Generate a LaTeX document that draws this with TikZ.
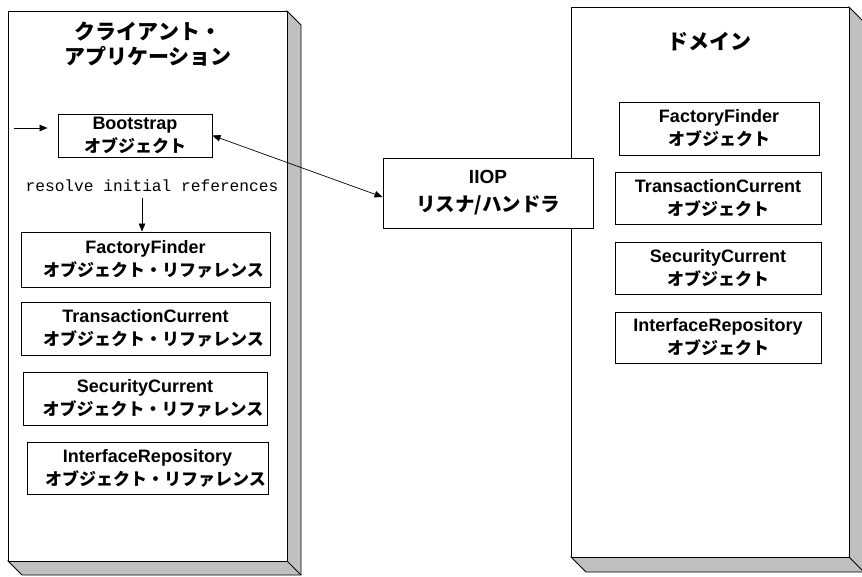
\documentclass[tikz,border=0pt]{standalone}
\usepackage{fontspec}
\setmainfont{Liberation Sans}
\newfontfamily\jp{Noto Sans CJK JP}
\newfontfamily\mono{Liberation Mono}
\usetikzlibrary{arrows.meta,calc}
\definecolor{shade}{RGB}{192,192,192}
\newcommand{\ltx}[1]{{\fontsize{18}{23}\selectfont\bfseries #1}}
\newcommand{\jtx}[1]{{\jp\fontsize{17}{23}\selectfont\bfseries #1}}
\newcommand{\jref}[1]{\hspace*{16pt}{\jp\fontsize{17}{23}\selectfont\bfseries #1}}
\newcommand{\lbig}[1]{{\fontsize{19}{28}\selectfont\bfseries #1}}
\newcommand{\jbig}[1]{{\jp\fontsize{19.5}{28}\selectfont\bfseries #1}}
\begin{document}
\begin{tikzpicture}[x=1pt,y=-1pt,
  box/.style={draw=black,line width=0.9pt,fill=white,rectangle,inner sep=0pt,align=center,
    font=\fontsize{17}{23}\selectfont},
  block/.style={draw=black,line width=0.9pt},
  arr/.style={line width=0.8pt,-{Triangle[length=8pt,width=6.5pt]}},
  darr/.style={line width=0.7pt,{Triangle[length=8pt,width=6.5pt]}-{Triangle[length=8pt,width=6.5pt]}},
  ttl/.style={align=center,font=\jp\bfseries\fontsize{21}{25.5}\selectfont}
]
\useasboundingbox (0,0) rectangle (862,576);
\begin{scope}
\clip (0,0) rectangle (862,576);
% left block
\filldraw[block,fill=shade] (287,11) -- (301,25) -- (301,575) -- (22,575) -- (8,561) -- (287,561) -- cycle;
\draw[block] (287,561) -- (301,575);
\filldraw[block,fill=white] (8,11) rectangle (287,561);
% right block
\filldraw[block,fill=shade] (849,7) -- (864,22) -- (864,572) -- (586,572) -- (571,557) -- (849,557) -- cycle;
\draw[block] (849,557) -- (864,572);
\filldraw[block,fill=white] (571,7) rectangle (849,557);
\end{scope}

\node[ttl] (ltitle) at (148,44) {クライアント・\\アプリケーション};
\node[ttl] (rtitle) at (709,42) {ドメイン};

% left inner boxes
\node[box,minimum width=154,minimum height=43] (boot) at (135,135.5) {\ltx{Bootstrap}\\\jtx{オブジェクト}};
\node[font=\mono\fontsize{16.2}{18}\selectfont,inner sep=0pt] (resolve) at (152,186) {resolve initial references};
\coordinate (dstart) at (142,198);
\node[box,minimum width=249,minimum height=55] (ffr) at (145.5,259.5) {\ltx{FactoryFinder}\\\jref{オブジェクト・リファレンス}};
\node[box,minimum width=249,minimum height=53] (tcr) at (145.5,328.5) {\ltx{TransactionCurrent}\\\jref{オブジェクト・リファレンス}};
\node[box,minimum width=244,minimum height=53] (scr) at (145,398.5) {\ltx{SecurityCurrent}\\\jref{オブジェクト・リファレンス}};
\node[box,minimum width=241,minimum height=52] (irr) at (147.5,468) {\ltx{InterfaceRepository}\\\jref{オブジェクト・リファレンス}};
\coordinate (instart) at (14,128);

% right inner boxes
\node[box,minimum width=200,minimum height=53] (ffo) at (719,128.5) {\ltx{FactoryFinder}\\\jtx{オブジェクト}};
\node[box,minimum width=206,minimum height=52] (tco) at (718,198) {\ltx{TransactionCurrent}\\\jtx{オブジェクト}};
\node[box,minimum width=206,minimum height=52] (sco) at (718,268) {\ltx{SecurityCurrent}\\\jtx{オブジェクト}};
\node[box,minimum width=206,minimum height=51] (iro) at (718,337.5) {\ltx{InterfaceRepository}\\\jtx{オブジェクト}};

% IIOP
\node[box,minimum width=210,minimum height=70,font=\fontsize{19.5}{28}\selectfont] (iiop) at (488,193) {\lbig{IIOP}\\\jbig{リスナ/ハンドラ}};

% connectors
\draw[arr] (instart) -- (instart -| {$(boot.west)+(-10,0)$});
\draw[arr] (dstart) -- (dstart |- ffr.north);
\draw[darr] (boot.east) -- ($(iiop.west)+(0,4)$);
\end{tikzpicture}
\end{document}
